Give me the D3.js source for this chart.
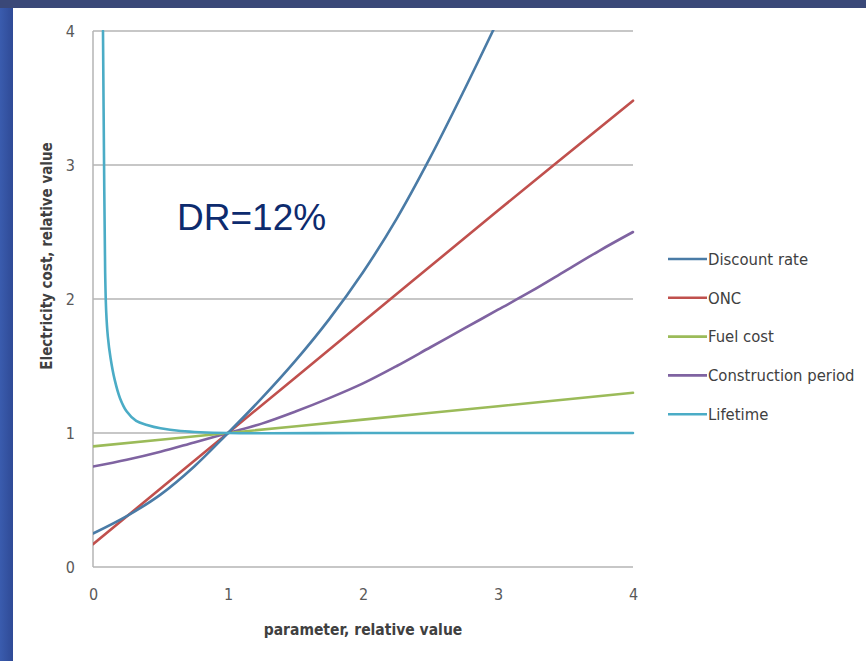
<!DOCTYPE html>
<html>
<head>
<meta charset="utf-8">
<script src="https://cdn.jsdelivr.net/npm/d3@7"></script>
<style>
  html, body { margin: 0; padding: 0; background: #fff; }
  svg { display: block; }
</style>
</head>
<body>
<svg id="chart" width="866" height="661"></svg>
<script>
// ---- Data ----
const xTicks = [0, 1, 2, 3, 4];
const yTicks = [0, 1, 2, 3, 4];
const seriesNames = ["Discount rate", "ONC", "Fuel cost", "Construction period", "Lifetime"];
const seriesColors = ["#4a7ba6", "#c0504d", "#9bbb59", "#7f63a1", "#4bacc6"];

const discountX = [0, 0.25, 0.5, 0.75, 1, 1.25, 1.5, 1.75, 2, 2.25, 2.5, 2.75, 3];
const discountY = [0.25, 0.38, 0.54, 0.75, 1.0, 1.26, 1.54, 1.85, 2.2, 2.6, 3.06, 3.56, 4.08];

const oncX = [0, 1, 2, 3, 4];
const oncY = [0.17, 1.0, 1.83, 2.66, 3.48];

const fuelX = [0, 1, 2, 3, 4];
const fuelY = [0.9, 1.0, 1.1, 1.2, 1.3];

const constrX = [0, 0.25, 0.5, 0.75, 1, 1.25, 1.5, 1.75, 2, 2.25, 2.5, 2.75, 3, 3.25, 3.5, 3.75, 4];
const constrY = [0.75, 0.8, 0.86, 0.93, 1.0, 1.07, 1.16, 1.26, 1.37, 1.5, 1.64, 1.78, 1.92, 2.06, 2.21, 2.36, 2.5];

const lifeX = [0.074, 0.082, 0.09, 0.098, 0.11, 0.13, 0.16, 0.2, 0.25, 0.32, 0.4, 0.5, 0.65, 1, 2, 3, 4];
const lifeY = [4.0, 3.0, 2.2, 1.9, 1.72, 1.56, 1.4, 1.26, 1.16, 1.09, 1.06, 1.035, 1.015, 1.0, 1.0, 1.0, 1.0];

const seriesX = [discountX, oncX, fuelX, constrX, lifeX];
const seriesY = [discountY, oncY, fuelY, constrY, lifeY];

// ---- Layout ----
const svg = d3.select("#chart");
const W = 866, H = 661;
const plot = { left: 93, right: 633, top: 31, bottom: 567 };

// slide background frame
const defs = svg.append("defs");
const lg = defs.append("linearGradient").attr("id", "leftband").attr("x1", 0).attr("x2", 1).attr("y1", 0).attr("y2", 0);
lg.append("stop").attr("offset", "0%").attr("stop-color", "#3a5cae");
lg.append("stop").attr("offset", "100%").attr("stop-color", "#2f4a96");
svg.append("rect").attr("x", 0).attr("y", 0).attr("width", W).attr("height", H).attr("fill", "#ffffff");
svg.append("rect").attr("x", 0).attr("y", 0).attr("width", 13).attr("height", H).attr("fill", "url(#leftband)");
svg.append("rect").attr("x", 0).attr("y", 0).attr("width", W).attr("height", 8).attr("fill", "#3a4878");

const x = d3.scaleLinear().domain([0, 4]).range([plot.left, plot.right]);
const y = d3.scaleLinear().domain([0, 4]).range([plot.bottom, plot.top]);

const gridColor = "#b4b4b4";
const tickFont = "'Liberation Sans Narrow', 'DejaVu Sans Condensed', 'Arial Narrow', sans-serif";

// gridlines
svg.append("g").selectAll("line").data(yTicks.filter(d => d > 0)).join("line")
  .attr("x1", plot.left).attr("x2", plot.right)
  .attr("y1", d => y(d)).attr("y2", d => y(d))
  .attr("stroke", gridColor).attr("stroke-width", 1.5);

// axes lines
svg.append("line").attr("x1", plot.left).attr("x2", plot.left).attr("y1", plot.top).attr("y2", plot.bottom)
  .attr("stroke", gridColor).attr("stroke-width", 1.5);
svg.append("line").attr("x1", plot.left).attr("x2", plot.right).attr("y1", plot.bottom).attr("y2", plot.bottom)
  .attr("stroke", gridColor).attr("stroke-width", 1.5);

// y tick labels
const yAxis = d3.axisLeft(y).tickValues(yTicks).tickSize(0).tickPadding(18).tickFormat(d3.format("d"));
const yg = svg.append("g").attr("transform", `translate(${plot.left},0)`).call(yAxis);
yg.select(".domain").remove();
yg.selectAll("text").attr("font-family", tickFont).attr("font-size", 16).attr("fill", "#595959");

// x tick labels
const xAxis = d3.axisBottom(x).tickValues(xTicks).tickSize(0).tickPadding(22).tickFormat(d3.format("d"));
const xg = svg.append("g").attr("transform", `translate(0,${plot.bottom})`).call(xAxis);
xg.select(".domain").remove();
xg.selectAll("text").attr("font-family", tickFont).attr("font-size", 16).attr("fill", "#595959");

// axis titles
svg.append("text").attr("x", (plot.left + plot.right) / 2).attr("y", 635)
  .attr("text-anchor", "middle").attr("font-family", tickFont).attr("font-weight", "bold")
  .attr("font-size", 15.5).attr("fill", "#404040").text("parameter, relative value");
svg.append("text").attr("transform", `translate(52,256) rotate(-90)`)
  .attr("text-anchor", "middle").attr("font-family", tickFont).attr("font-weight", "bold")
  .attr("font-size", 15).attr("fill", "#404040").text("Electricity cost, relative value");

// clip
defs.append("clipPath").attr("id", "plotclip").append("rect")
  .attr("x", plot.left).attr("y", plot.top - 1).attr("width", plot.right - plot.left + 2).attr("height", plot.bottom - plot.top + 2);

const lineSmooth = d3.line().x(d => x(d[0])).y(d => y(d[1])).curve(d3.curveCatmullRom.alpha(0.5));
const lines = svg.append("g").attr("clip-path", "url(#plotclip)");
const order = [3, 2, 1, 0, 4];
order.forEach(i => {
  const pts = seriesX[i].map((v, k) => [v, seriesY[i][k]]);
  lines.append("path").datum(pts).attr("d", lineSmooth)
    .attr("fill", "none").attr("stroke", seriesColors[i]).attr("stroke-width", 2.6)
    .attr("stroke-linejoin", "round").attr("stroke-linecap", "round");
});

// annotation
svg.append("text").attr("x", 177).attr("y", 230)
  .attr("font-family", "'Liberation Sans', Arial, sans-serif").attr("font-size", 37)
  .attr("fill", "#0d2b6e").text("DR=12%");

// legend
const legY0 = 259, legStep = 38.8;
const leg = svg.append("g");
seriesNames.forEach((name, i) => {
  const yy = legY0 + i * legStep;
  leg.append("line").attr("x1", 668).attr("x2", 707).attr("y1", yy).attr("y2", yy)
    .attr("stroke", seriesColors[i]).attr("stroke-width", 2.6);
  leg.append("text").attr("x", 708).attr("y", yy).attr("dy", "0.35em")
    .attr("font-family", tickFont).attr("font-size", 16.5).attr("fill", "#404040").text(name);
});
</script>
</body>
</html>
